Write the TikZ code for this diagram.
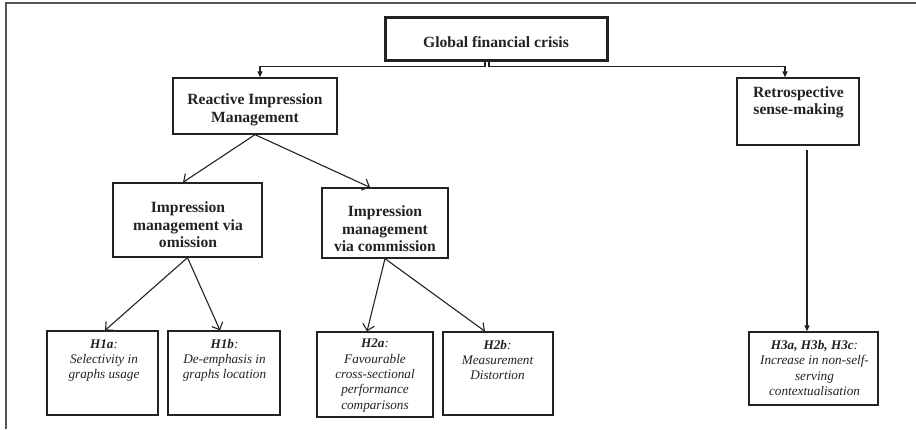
\documentclass[tikz,border=0pt]{standalone}
\usepackage{fontspec}
\setmainfont{Liberation Serif}
\usetikzlibrary{arrows.meta}
\definecolor{ink}{HTML}{222222}
\definecolor{frame}{HTML}{555555}
\begin{document}
\begin{tikzpicture}[x=1pt,y=-1pt,
  box/.style={draw=ink,line width=1.3pt,inner sep=0pt,minimum width=#1},
  bt/.style={text=ink,align=center,inner sep=0pt,font=\bfseries\fontsize{15.6}{17.5}\selectfont},
  it/.style={text=ink,align=center,inner sep=0pt,font=\itshape\fontsize{13.2}{15.3}\selectfont},
  conn/.style={draw=ink,line width=1.1pt},
  tri/.style={conn,-{Triangle[length=6pt,width=5pt]}},
  vee/.style={conn,-{Straight Barb[length=6pt,width=12pt,line width=1.1pt]}}
]
\useasboundingbox (0,0) rectangle (916,429);
\draw[frame,line width=1.5pt] (6,429) -- (6,3) -- (916,3);

% boxes
\node[box=222pt,minimum height=43pt,line width=3pt] (global) at (496,38.5) {};
\node[box=164pt,minimum height=56pt] (reactive) at (255,106) {};
\node[box=122pt,minimum height=67pt] (retro) at (798,111.5) {};
\node[box=149pt,minimum height=74pt] (omission) at (187.5,220) {};
\node[box=126pt,minimum height=70pt] (commission) at (385,223) {};
\node[box=111pt,minimum height=84pt] (h1a) at (102.5,373) {};
\node[box=112pt,minimum height=84pt] (h1b) at (224,373) {};
\node[box=116pt,minimum height=85pt] (h2a) at (375,374.5) {};
\node[box=110pt,minimum height=83pt] (h2b) at (498,373.5) {};
\node[box=129pt,minimum height=73pt] (h3) at (813.5,368.5) {};

% texts
\node[bt] (tglobal) at (496,42) {Global financial crisis};
\node[bt] (treactive) at (255,110) {Reactive Impression\\Management};
\node[bt] (tretro) at (798.5,102.5) {Retrospective\\sense-making};
\node[bt] (tomission) at (188,225) {Impression\\management via\\omission};
\node[bt] (tcommission) at (385,229) {Impression\\management\\via commission};
\node[it] (th1a) at (104,360.5) {\textbf{H1a}:\\Selectivity in\\graphs usage};
\node[it] (th1b) at (224.5,360.5) {\textbf{H1b}:\\De-emphasis in\\graphs location};
\node[it] (th2a) at (375,375.5) {\textbf{H2a}:\\Favourable\\cross-sectional\\performance\\comparisons};
\node[it] (th2b) at (497.5,360) {\textbf{H2b}:\\Measurement\\Distortion};
\node[it] (th3) at (814.5,368) {\textbf{H3a, H3b, H3c}:\\Increase in non-self-\\serving\\contextualisation};

% connectors
\draw[tri] ([xshift=-11pt]global.south) -- ++(0,5) -| ([xshift=5pt]reactive.north);
\draw[tri] ([xshift=-7pt]global.south) -- ++(0,5) -| ([xshift=-13pt]retro.north);
\draw[vee] (reactive.south) -- ([xshift=-4.5pt]omission.north);
\draw[vee] (reactive.south) -- ([xshift=-15pt]commission.north);
\draw[vee] (omission.south) -- ([xshift=2.5pt]h1a.north);
\draw[vee] (omission.south) -- ([xshift=-4pt]h1b.north);
\draw[vee] (commission.south) -- ([xshift=-8pt]h2a.north);
\draw[vee] (commission.south) -- ([xshift=-13pt]h2b.north);
\coordinate (rstart) at ([xshift=9pt,yshift=-4pt]retro.south);
\draw[tri] (rstart) -- (rstart |- h3.north);
\end{tikzpicture}
\end{document}
